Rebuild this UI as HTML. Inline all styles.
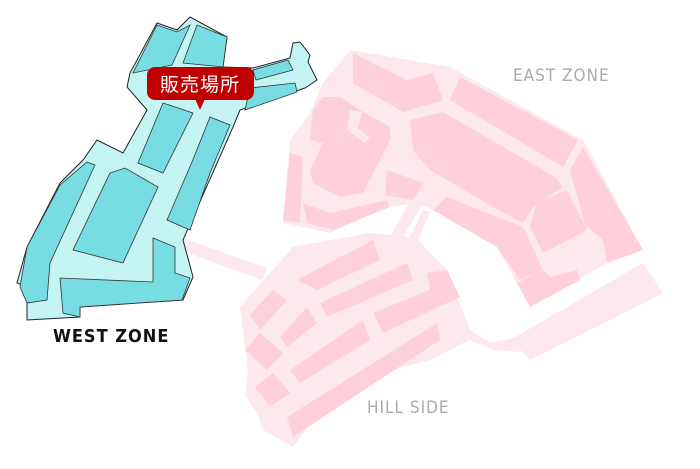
<!DOCTYPE html>
<html><head><meta charset="utf-8"><style>
body{margin:0;background:#fff;width:700px;height:469px;overflow:hidden}
svg{display:block}
</style></head><body>
<svg width="700" height="469" viewBox="0 0 700 469" xmlns="http://www.w3.org/2000/svg">
<!-- connectors -->
<polygon points="183,238 267,268 262,280 180,250" fill="#fde8ee"/>
<polygon points="410,200 423,203 395,250 385,247" fill="#fde8ee"/>
<!-- EAST ZONE -->
<polygon fill="#fde8ee" points="350,50 450,67 583,140 643,250 607,263 530,307 497,247 427,207 417,203 387,207 330,233 283,223 290,140 310,113 323,83"/>
<g fill="#fdd0da">
<polygon points="353,53 407,80 433,73 443,100 403,112 353,83"/>
<polygon points="460,77 578,140 563,167 450,100"/>
<polygon points="410,120 443,112 555,177 563,187 533,207 523,223 493,207 430,170 413,150"/>
<polygon points="387,170 423,183 413,200 385,195"/>
<polygon points="447,197 523,227 543,270 520,280 497,247 433,210"/>
<polygon points="583,147 643,250 607,263 603,240 585,225 570,170"/>
<polygon points="530,227 537,203 567,190 587,230 543,253"/>
<polygon points="517,283 543,270 550,277 577,270 580,280 530,307"/>
<polygon points="323,97 340,97 360,110 390,127 390,140 363,193 340,197 313,183 310,170 323,143 310,140 313,110"/>
<polygon points="290,153 303,157 300,223 283,220"/>
<polygon points="303,203 330,213 387,200 390,207 333,230 307,223"/>
</g>
<polygon fill="#fde8ee" points="350,110 362,112 358,128 370,138 365,143 347,130"/>
<!-- long strip -->
<polygon fill="#fde8ee" points="510,340 643,263 663,293 530,360"/>
<polygon fill="#fde8ee" points="470,330 490,343 513,338 520,352 493,350 470,340"/>
<!-- HILL SIDE -->
<polygon fill="#fde8ee" points="240,307 293,247 370,233 410,237 423,210 430,212 418,240 447,270 470,330 473,338 430,360 340,383 293,447 263,430 258,415 245,395 248,370"/>
<g fill="#fdd0da">
<polygon points="297,280 373,240 380,260 317,290"/>
<polygon points="320,303 407,263 413,280 327,317"/>
<polygon points="373,313 430,290 427,273 447,270 460,297 383,333"/>
<polygon points="290,370 363,320 370,340 300,383"/>
<polygon points="287,417 437,323 440,340 293,437"/>
<polygon points="250,315 273,290 287,300 260,330"/>
<polygon points="280,337 307,307 317,323 287,347"/>
<polygon points="245,350 260,333 283,353 267,370"/>
<polygon points="255,387 273,373 290,393 270,407"/>
</g>
<!-- WEST ZONE -->
<polygon fill="#c5f5f3" stroke="#222" stroke-width="1" points="157,23 177,30 190,17 227,37 223,67 253,68 290,58 293,43 300,42 310,55 308,62 317,80 305,88 240,110 233,127 183,240 193,277 183,300 80,307 80,317 27,320 27,287 17,283 27,247 60,183 83,160 97,140 123,153 147,110 127,87 130,73"/>
<g fill="#78dde2" stroke="#333" stroke-width="0.8">
<polygon points="157,25 177,32 190,25 172,65 133,73"/>
<polygon points="197,25 227,37 223,67 183,63"/>
<polygon points="253,70 288,60 293,70 256,80"/>
<polygon points="250,88 295,83 297,92 245,110"/>
<polygon points="163,103 193,113 163,173 138,163"/>
<polygon points="210,117 230,125 210,173 190,230 167,220 192,162"/>
<polygon points="110,173 125,168 158,187 123,263 73,250"/>
<polygon points="87,162 95,165 50,263 47,300 27,303 20,287 27,247 60,185"/>
<polygon points="153,238 175,247 175,273 190,278 182,300 80,307 80,317 63,313 60,278 153,282"/>
</g>
<!-- callout -->
<rect x="147" y="67" width="107" height="33" rx="8" fill="#c00000"/>
<polygon points="195,99 205,99 200,110" fill="#c00000"/>
<text x="200" y="91" text-anchor="middle" font-family="'Liberation Sans','Noto Sans CJK JP',sans-serif" font-size="19" fill="#fff" letter-spacing="1">販売場所</text>
<!-- labels -->
<text x="53" y="342" font-family="'DejaVu Sans Condensed','Liberation Sans',sans-serif" font-size="18" font-weight="bold" fill="#111" letter-spacing="1">WEST ZONE</text>
<text x="513" y="81" font-family="'DejaVu Sans Condensed','Liberation Sans',sans-serif" font-size="17" fill="#aaa" letter-spacing="1">EAST ZONE</text>
<text x="367" y="413" font-family="'DejaVu Sans Condensed','Liberation Sans',sans-serif" font-size="17" fill="#aaa" letter-spacing="1">HILL SIDE</text>
</svg>
</body></html>
